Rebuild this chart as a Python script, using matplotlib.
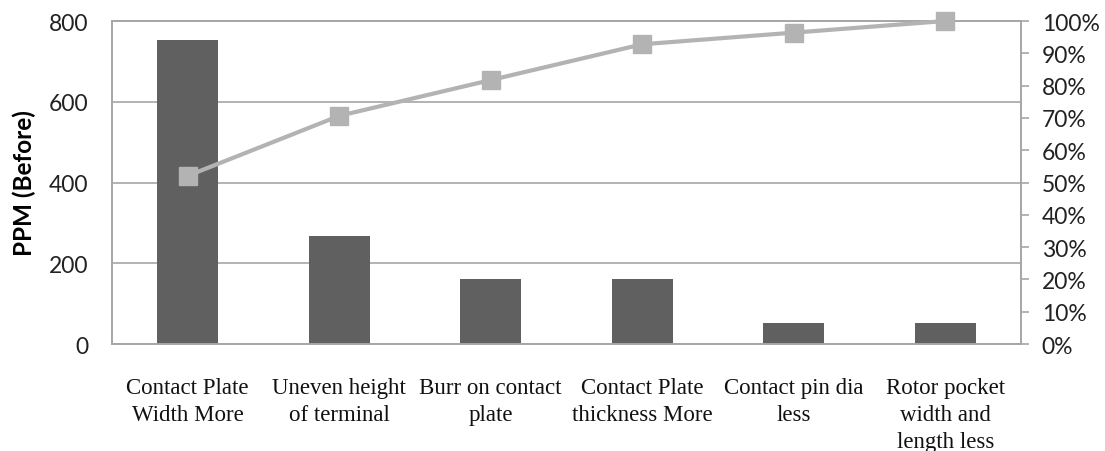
import numpy as np
import matplotlib.pyplot as plt
from matplotlib.ticker import PercentFormatter

# Pareto of defects before improvement
defects = ["Contact Plate\nWidth More", "Uneven height\nof terminal", "Burr on contact\nplate",
           "Contact Plate\nthickness More", "Contact pin dia\nless", "Rotor pocket\nwidth and\nlength less"]
ppm = [752, 268, 160, 160, 52, 52]
cum_pct = np.cumsum(ppm) / np.sum(ppm) * 100

bar_col = "#606060"
line_col = "#B3B3B3"
grid_col = "#A6A6A6"
sans = ["Lato", "DejaVu Sans"]
serif = ["Liberation Serif", "DejaVu Serif"]

fig = plt.figure(figsize=(11.05, 4.52), dpi=100)
ax = fig.add_axes([112 / 1105, 1 - 345 / 452, 909 / 1105, 323 / 452])
x = np.arange(len(defects))

ax.bar(x, ppm, width=0.4, color=bar_col, zorder=2)
ax.set_xlim(-0.5, len(defects) - 0.5)
ax.set_ylim(0, 800)
ax.set_yticks([0, 200, 400, 600, 800])
ax.yaxis.grid(True, color=grid_col, lw=1.2, zorder=0)
ax.tick_params(axis="y", length=0, pad=17, labelsize=16.5, labelcolor="#222222")
ax.tick_params(axis="x", length=0, pad=24)
ax.set_xticks(x)
ax.set_xticklabels(defects, fontsize=16.5, family=serif, linespacing=1.35, color="#111111")
for lab in ax.get_yticklabels():
    lab.set_family(sans)
ax.set_ylabel("PPM (Before)", fontsize=17.5, fontweight="bold", family=sans)
ax.yaxis.set_label_coords(-0.084, 0.5)
for s in ax.spines.values():
    s.set_color(grid_col)
    s.set_linewidth(1.2)

ax2 = ax.twinx()
ax2.plot(x, cum_pct, color=line_col, lw=3, marker="s", markersize=13, zorder=3, clip_on=False)
ax2.set_ylim(0, 100)
ax2.set_yticks(np.arange(0, 101, 10))
ax2.yaxis.set_major_formatter(PercentFormatter(decimals=0))
ax2.tick_params(axis="y", length=6, width=1.2, color=grid_col, pad=9, labelsize=16.5, labelcolor="#222222")
for lab in ax2.get_yticklabels():
    lab.set_family(sans)
for s in ax2.spines.values():
    s.set_color(grid_col)
    s.set_linewidth(1.2)

fig.savefig("out.png", dpi=100)
